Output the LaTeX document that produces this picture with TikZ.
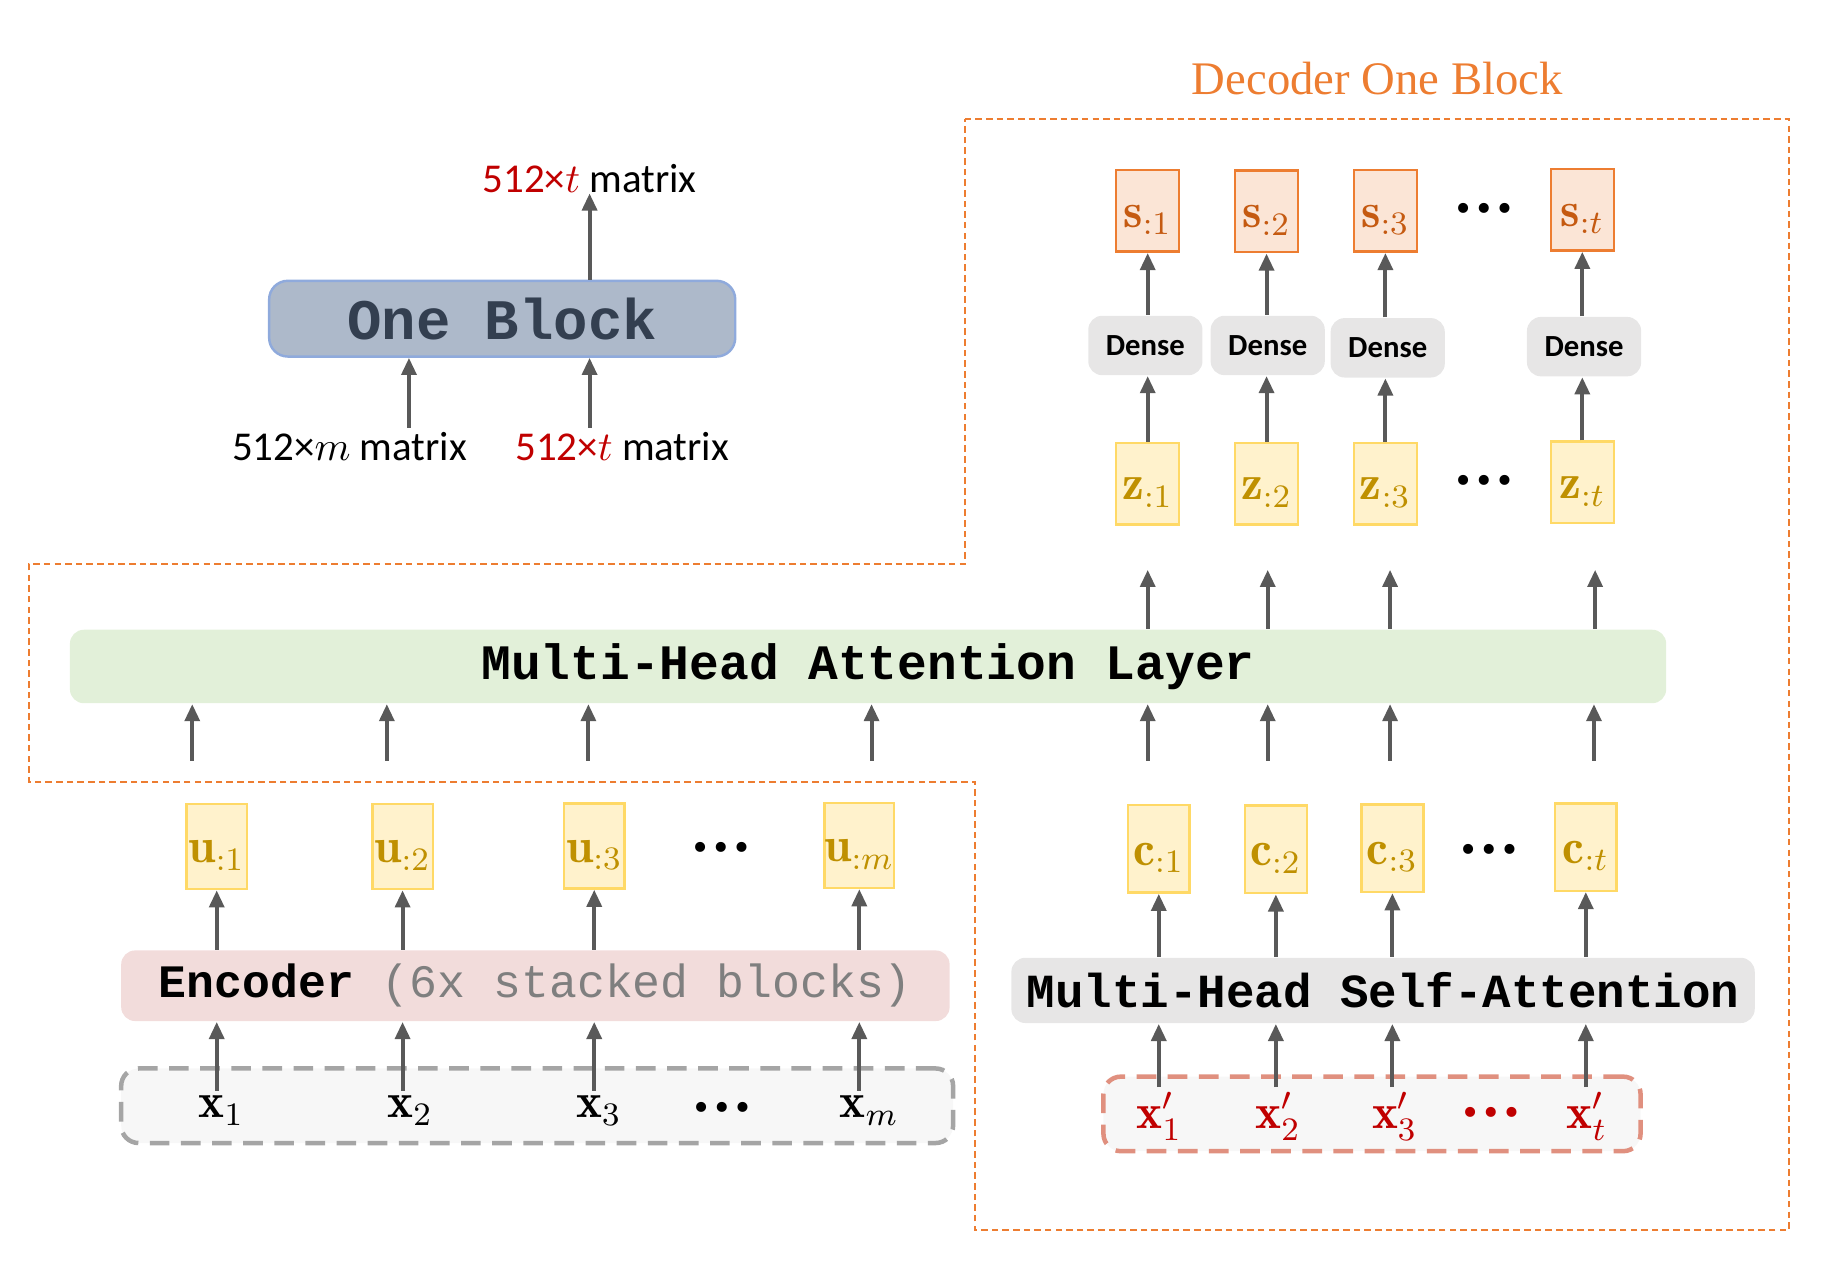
\documentclass[tikz,border=0pt]{standalone}
\usepackage{fontspec}
\usetikzlibrary{arrows.meta,calc}
\newfontfamily\monofont{Liberation Mono}
\newfontfamily\califont{Carlito}
\newfontfamily\timesfont{Liberation Serif}
\definecolor{arrowgray}{HTML}{595959}
\definecolor{orangeline}{HTML}{ED7D31}
\definecolor{sfill}{HTML}{FBE5D6}
\definecolor{sborder}{HTML}{ED7D31}
\definecolor{stext}{HTML}{C55A11}
\definecolor{yfill}{HTML}{FFF2CC}
\definecolor{yborder}{HTML}{FFD966}
\definecolor{ytext}{HTML}{BF9000}
\definecolor{redtext}{HTML}{C00000}
\definecolor{blockfill}{HTML}{ADB9CA}
\definecolor{blockborder}{HTML}{8FAADC}
\definecolor{blocktext}{HTML}{333F50}
\definecolor{encfill}{HTML}{F2DCDB}
\definecolor{attfill}{HTML}{E2F0D9}
\definecolor{grayfill}{HTML}{E7E6E6}
\definecolor{inputfill}{HTML}{F7F7F7}
\definecolor{inputborder}{HTML}{A5A5A5}
\definecolor{xpborder}{HTML}{E0907F}
\definecolor{graytext}{HTML}{7F7F7F}
\newcommand\mlab{\fontsize{12}{14}\selectfont}
\begin{document}
\begin{tikzpicture}[x=0.1mm,y=-0.1mm,
  arr/.style={draw=arrowgray,line width=1pt,-{Triangle[length=4.2pt,width=3.6pt]}},
  sbox/.style={draw=sborder,fill=sfill,line width=0.6pt,minimum width=5.4mm,minimum height=7mm,inner sep=0pt,
    text height=3mm,text depth=0.2mm,text=stext,font=\mlab},
  zbox/.style={draw=yborder,fill=yfill,line width=0.6pt,minimum width=5.4mm,minimum height=7mm,inner sep=0pt,
    text height=3mm,text depth=0.2mm,text=ytext,font=\mlab},
  ubox/.style={zbox,minimum width=5.2mm,minimum height=7.3mm},
  cbox/.style={zbox,minimum width=5.3mm,minimum height=7.5mm},
  densebox/.style={fill=grayfill,rounded corners=1.2mm,minimum width=9.8mm,minimum height=5.1mm,inner sep=0pt,font=\califont\bfseries\fontsize{7.5}{9}\selectfont},
  dotlab/.style={inner sep=0pt,font=\timesfont\bfseries\fontsize{15}{16}\selectfont},
  xlab/.style={inner sep=1pt,font=\mlab},
  calilab/.style={inner sep=0pt,font=\califont\fontsize{10}{12}\selectfont},
  orangedash/.style={draw=orangeline,line width=0.5pt,dash pattern=on 1.6pt off 1pt}]
\useasboundingbox (0,0) rectangle (1568,1099);

% decoder outline
\draw[orangedash] (828,102) -- (1535,102) -- (1535,1056) -- (837,1056) -- (837,671)
  -- (25,671) -- (25,484) -- (828,484) -- cycle;
\node[text=orangeline,font=\timesfont\fontsize{11.4}{13}\selectfont] (title) at (1182,67) {Decoder One Block};

% One block legend
\node[draw=blockborder,fill=blockfill,line width=0.6pt,rounded corners=1.6mm,minimum width=40mm,minimum height=6.5mm,
  text=blocktext,font=\monofont\bfseries\fontsize{14}{16}\selectfont] (ob) at (431,273.5) {One Block};
\node[calilab] (toplbl) at (506,153) {{\color{redtext}512×$t$} matrix};
\node[calilab] (bllbl) at (300,383) {512×$m$ matrix};
\node[calilab] (brlbl) at (534,383) {{\color{redtext}512×$t$} matrix};
\coordinate (ob1) at (351,367);
\coordinate (ob2) at (506,367);
\draw[arr] (ob1) -- (ob1 |- ob.south);
\draw[arr] (ob2) -- (ob2 |- ob.south);
\draw[arr] (toplbl |- ob.north) -- (toplbl.south);

% decoder top
\node[sbox] (s1) at (985,181) {$\mathbf{s}_{:1}$};
\node[sbox] (s2) at (1087,181.5) {$\mathbf{s}_{:2}$};
\node[sbox] (s3) at (1189,181) {$\mathbf{s}_{:3}$};
\node[sbox] (st) at (1358,180) {$\mathbf{s}_{:t}$};
\node[dotlab] (sdots) at (1274,179) {…};
\node[densebox] (d1) at (983,296.5) {Dense};
\node[densebox] (d2) at (1088,296.5) {Dense};
\node[densebox] (d3) at (1191,298.5) {Dense};
\node[densebox] (d4) at (1359.5,297.5) {Dense};
\node[zbox] (z1) at (985,415) {$\mathbf{z}_{:1}$};
\node[zbox] (z2) at (1087,415) {$\mathbf{z}_{:2}$};
\node[zbox] (z3) at (1189,415) {$\mathbf{z}_{:3}$};
\node[zbox] (zt) at (1358,414) {$\mathbf{z}_{:t}$};
\node[dotlab] (zdots) at (1274,412) {…};
\foreach \z/\d/\s in {z1/d1/s1,z2/d2/s2,z3/d3/s3,zt/d4/st}{
  \draw[arr] (\z.north) -- (\z |- \d.south);
  \draw[arr] (\z |- \d.north) -- (\s.south);
}

% attention layer
\node[fill=attfill,rounded corners=1.2mm,minimum width=137mm,minimum height=5.6mm,
  font=\monofont\bfseries\fontsize{12.1}{14}\selectfont] (att) at (745,572) {Multi-Head Attention Layer};
\foreach \n/\x in {ea1/165,ea2/332,ea3/505,ea4/748,da1/985,da2/1088,da3/1193,da4/1368}{
  \coordinate (\n) at (\x,653);
  \draw[arr] (\n) -- (\n |- att.south);
}
\foreach \n/\x in {dt1/985,dt2/1088,dt3/1193,dt4/1369}{
  \coordinate (\n) at (\x,489);
  \draw[arr] (\n |- att.north) -- (\n);
}

% encoder
\node[ubox] (u1) at (186,726.5) {$\mathbf{u}_{:1}$};
\node[ubox] (u2) at (345.5,726.5) {$\mathbf{u}_{:2}$};
\node[ubox] (u3) at (510,726) {$\mathbf{u}_{:3}$};
\node[ubox] (um) at (737.5,725.5) {$\mathbf{u}_{:m}$};
\node[dotlab] (udots) at (619,727) {…};
\node[fill=encfill,rounded corners=1.2mm,minimum width=71.1mm,minimum height=5.4mm,
  font=\monofont\fontsize{11.35}{13}\selectfont] (enc) at (459.5,846) {\textbf{Encoder} \textcolor{graytext}{(6x stacked blocks)}};
\node[draw=inputborder,fill=inputfill,line width=1.1pt,dash pattern=on 4.8pt off 2.8pt,rounded corners=1.5mm,
  minimum width=71.4mm,minimum height=6.4mm] (inp) at (461,949) {};
\node[xlab] (x1) at (190,953) {$\mathbf{x}_1$};
\node[xlab] (x2) at (352,953) {$\mathbf{x}_2$};
\node[xlab] (x3) at (514,953) {$\mathbf{x}_3$};
\node[dotlab] (xdots) at (620,950) {…};
\node[xlab] (xm) at (746,953) {$\mathbf{x}_m$};
\foreach \u/\x in {u1/x1,u2/x2,u3/x3,um/xm}{
  \draw[arr] (\u |- \x.north) -- (\u |- enc.south);
  \draw[arr] (\u |- enc.north) -- (\u.south);
}

% decoder bottom
\node[cbox] (c1) at (994.5,728.5) {$\mathbf{c}_{:1}$};
\node[cbox] (c2) at (1095,729) {$\mathbf{c}_{:2}$};
\node[cbox] (c3) at (1195,728) {$\mathbf{c}_{:3}$};
\node[cbox] (ct) at (1361,727) {$\mathbf{c}_{:t}$};
\node[dotlab] (cdots) at (1278,729) {…};
\node[fill=grayfill,rounded corners=1.2mm,minimum width=63.8mm,minimum height=5.6mm,
  font=\monofont\bfseries\fontsize{11.6}{13}\selectfont] (mhsa) at (1187,850) {Multi-Head Self-Attention};
\node[draw=xpborder,fill=inputfill,line width=1.1pt,dash pattern=on 4.8pt off 2.8pt,rounded corners=1.5mm,
  minimum width=46.1mm,minimum height=6.4mm] (xpbox) at (1177.5,956) {};
\node[xlab,text=redtext] (xp1) at (995,958) {$\mathbf{x}'_1$};
\node[xlab,text=redtext] (xp2) at (1097,958) {$\mathbf{x}'_2$};
\node[xlab,text=redtext] (xp3) at (1197,958) {$\mathbf{x}'_3$};
\node[dotlab,text=redtext] (xpdots) at (1280,955) {…};
\node[xlab,text=redtext] (xpt) at (1362,958) {$\mathbf{x}'_t$};
\foreach \c/\x in {c1/xp1,c2/xp2,c3/xp3,ct/xpt}{
  \draw[arr] (\c |- \x.north) -- (\c |- mhsa.south);
  \draw[arr] (\c |- mhsa.north) -- (\c.south);
}
\end{tikzpicture}
\end{document}
